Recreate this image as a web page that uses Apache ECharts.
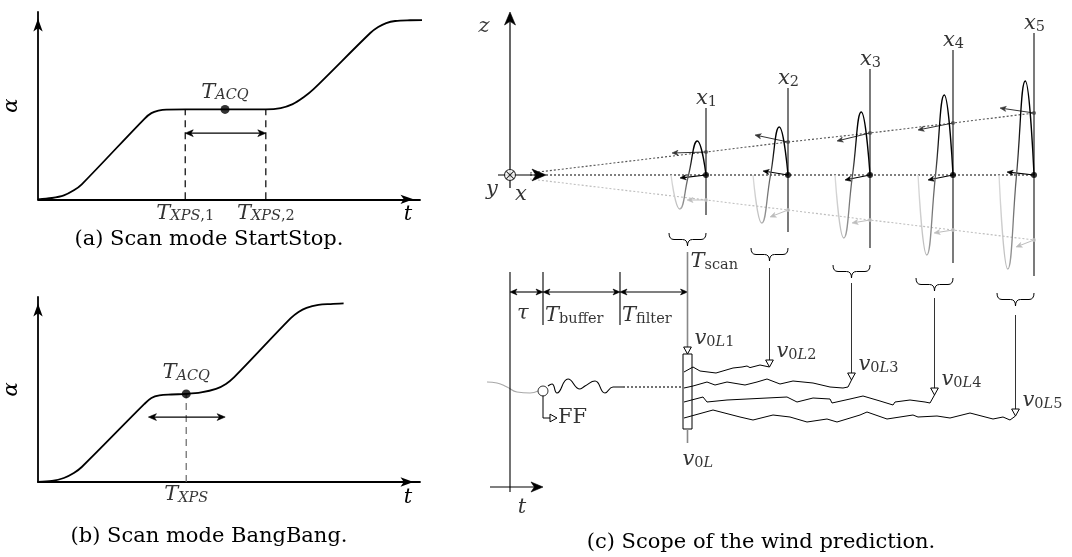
<!DOCTYPE html>
<html>
<head>
<meta charset="utf-8">
<title>Scan modes and scope of the wind prediction</title>
<script src="https://cdn.jsdelivr.net/npm/echarts@6.0.0/dist/echarts.min.js"></script>
<style>
  html, body { margin: 0; padding: 0; background: #fff; }
  #chart { width: 1072px; height: 557px; }
</style>
</head>
<body>
<div id="chart"></div>
<script>
// ---------- (a) scan mode StartStop: scanner angle alpha over time t ----------
const startStopT     = [0, 0.365, 0.677, 0.938, 1.146, 2.786, 2.969, 3.151, 3.359, 3.854, 5.964, 6.354, 6.667, 6.953, 7.214, 8.698, 8.906, 9.115, 9.349, 9.74, 10.21];
const startStopAlpha = [0, 0.07, 0.21, 0.48, 0.80, 4.30, 4.60, 4.73, 4.79, 4.80, 4.80, 4.87, 5.08, 5.45, 5.88, 8.88, 9.20, 9.41, 9.52, 9.56, 9.57];
const startStopXps   = [3.854, 5.964];      // T_XPS,1 and T_XPS,2
const startStopAcq   = [4.896, 4.80];       // T_ACQ
const startStopSpanAlpha = 3.53;            // height of the window arrow

// ---------- (b) scan mode BangBang ----------
const bangBangT     = [0, 0.365, 0.677, 0.938, 1.146, 2.786, 2.969, 3.177, 3.49, 3.88, 4.27, 4.66, 4.92, 5.13, 6.61, 6.82, 7.03, 7.34, 7.66, 8.0];
const bangBangAlpha = [0, 0.054, 0.216, 0.486, 0.81, 4.22, 4.54, 4.68, 4.73, 4.76, 4.84, 5.03, 5.30, 5.65, 8.84, 9.19, 9.41, 9.57, 9.62, 9.65];
const bangBangXps   = 3.88;                 // T_XPS
const bangBangAcq   = [3.88, 4.76];         // T_ACQ
const bangBangSpan  = [2.89, 4.90, 3.51];   // from t, to t, at alpha

// ---------- (c) scope of the wind prediction (x downstream, z height) ----------
const stationX      = [98, 139, 180, 221.5, 262];
const stationTop    = [33.5, 43.5, 53, 62.5, 71];
const stationBottom = [-20, -28.5, -36.5, -44, -50.5];
const scanAmp       = [17, 24, 31.5, 40, 47];
const scanWidth     = 17.5;
const upperZ        = [11.5, 16.5, 21, 26, 31];
const lowerZ        = [-12.5, -17.5, -22.5, -27.5, -32.5];
const hubVec        = [[-13, -1.5], [-12.5, 2], [-12.5, -2.5], [-12.5, -2.5], [-13.5, 1.5]];
const upperVec      = [[-17, -0.5], [-16.5, 3.5], [-16.5, -4], [-17.5, -3.5], [-17, 2.5]];
const lowerVec      = [[-9.5, 0], [-9, -3.5], [-9, -1.5], [-9.5, -1.5], [-9, -3.5]];
const beamStart     = [[10, 0], [10, 1], [10, -2]];   // hub, upper, lower beam origins
const braceTop      = [-29, -36.5, -45, -51.5, -59];
const connectorTop  = [-38.5, -46.5, -54, -61.5, -70];
const arrivalZ      = [-89.5, -96, -102.5, -110, -120.5];  // v0L1 ... v0L5
const filterBank    = [86.5, -89.5, 91, -127];
const timeMarks     = [0, 16.5, 55, 88.75];  // tau | T_buffer | T_filter boundaries
const dimZ          = -58.5;
const tickZ         = [-48.5, -75];
const timeAxisZ     = [-48.5, -158.5];
const tArrow        = [-10, 16.5, -156];
const inputGray     = [[-11.5, -103.5], [-6.5, -104], [-1.5, -106], [3.5, -108.5], [10, -109], [14, -108]];
const inputBlack    = [[19, -105.5], [21, -104.5], [23.5, -109], [29, -102], [35, -107], [37.5, -105.5], [42.5, -103], [47.5, -109], [51.5, -106], [56.5, -106]];
const inputDotted   = [[56.5, -106], [86.5, -106]];
const ffNode        = [16.5, -108];
const ffPath        = [[16.5, -110.3], [16.5, -121.5], [23.5, -121.5]];
const wave1 = [[87, -98.5], [91.5, -96], [95, -98], [103, -99], [111.5, -96.5], [116, -96], [118.5, -95.5], [120, -96.3], [125, -95], [129.75, -96]];
const wave2 = [[87, -106.5], [91.5, -105.5], [98.5, -103.5], [102.5, -105], [108.5, -103.5], [117.5, -105], [123.5, -103.5], [128.5, -102], [135, -104.5], [141.5, -103], [151.5, -104], [160, -106], [166.5, -106.5], [169, -106], [170.75, -102.5]];
const wave3 = [[87, -113.5], [96.5, -111], [98.5, -113.5], [108.5, -112.5], [118.5, -112], [128.5, -111.5], [138.5, -111], [143.5, -113.5], [151.5, -111.5], [160, -112], [161, -114], [170, -112], [176.5, -110.5], [185, -113], [191.5, -115], [192.5, -113.5], [200, -112.5], [207.5, -113.5], [210, -114], [212.25, -110]];
const wave4 = [[87, -121.5], [101.5, -117.5], [115, -121], [121.5, -122.5], [131.5, -120], [140, -121], [148.5, -123.5], [158.5, -122], [163.5, -123.5], [175, -120], [178.5, -118.5], [188.5, -122], [201.5, -120], [204, -121], [213.5, -120.5], [220, -121.5], [230, -119], [241.5, -122], [246.5, -121], [250, -122.5], [252.75, -120.5]];

// ---------- styling ----------
const SERIF = '"DejaVu Serif", "Liberation Serif", serif';
const FS = 21, SS = 14.5;
const RICH = {
  i:  { fontFamily: SERIF, fontStyle: 'italic', fontSize: FS, lineHeight: FS, verticalAlign: 'top', color: '#000' },
  r:  { fontFamily: SERIF, fontSize: FS, lineHeight: FS, verticalAlign: 'top', color: '#000' },
  si: { fontFamily: SERIF, fontStyle: 'italic', fontSize: SS, lineHeight: SS, padding: [9, 0, 0, 0], verticalAlign: 'bottom', color: '#000' },
  sr: { fontFamily: SERIF, fontSize: SS, lineHeight: SS, padding: [9, 0, 0, 0], verticalAlign: 'bottom', color: '#000' }
};
const BRACE_DEPTH = 6.5;

const zip = (xs, ys) => xs.map((x, k) => [x, ys[k]]);
const braceCenter = stationX.map(x => x - 9.25);

// one arrow head, tip at `tip`, pointing along (ux, uy)
function head(tip, ux, uy, L, st) {
  const open = st.kind === 'open';
  const W = L * (open ? 0.55 : 0.42), nx = -uy, ny = ux;
  const bx = tip[0] - ux * L, by = tip[1] - uy * L;
  if (open) {
    return { type: 'polygon', shape: { points: [tip, [bx + nx * W, by + ny * W], [bx - nx * W, by - ny * W]] },
             style: { fill: '#fff', stroke: '#000', lineWidth: 1 } };
  }
  return { type: 'polygon',
           shape: { points: [tip, [bx + nx * W, by + ny * W], [tip[0] - ux * L * 0.72, tip[1] - uy * L * 0.72], [bx - nx * W, by - ny * W]] },
           style: { fill: st.color, stroke: st.color, lineWidth: 0.6 } };
}

// straight segments with optional heads: rows are [x1, y1, x2, y2, headStart, headEnd]
function segSeries(axis, rows, st) {
  const data = rows.map(r => [r[0], r[1], r[2], r[3], r[4] || 0, r[5] || 0]);
  return {
    type: 'custom', coordinateSystem: 'cartesian2d', xAxisIndex: axis, yAxisIndex: axis,
    silent: true, z: st.z == null ? 3 : st.z, data,
    dimensions: ['x1', 'y1', 'x2', 'y2', 'hs', 'he'],
    encode: { x: [0, 2], y: [1, 3] },
    renderItem: (params, api) => {
      const a = api.coord([api.value(0), api.value(1)]);
      const b = api.coord([api.value(2), api.value(3)]);
      const hs = api.value(4) || 0, he = api.value(5) || 0;
      const dx = b[0] - a[0], dy = b[1] - a[1], len = Math.hypot(dx, dy) || 1;
      const ux = dx / len, uy = dy / len;
      const back = st.kind === 'open' ? 1 : 0.6;
      const children = [{
        type: 'line',
        shape: { x1: a[0] + ux * hs * back, y1: a[1] + uy * hs * back, x2: b[0] - ux * he * back, y2: b[1] - uy * he * back },
        style: { stroke: st.color, lineWidth: st.width, lineDash: st.dash || null, fill: 'none' }
      }];
      if (he) children.push(head(b, ux, uy, he, st));
      if (hs) children.push(head(a, -ux, -uy, hs, st));
      return { type: 'group', children };
    }
  };
}

// curly braces opening upwards: rows are [xLeft, xRight, zTop]
function braceSeries(axis, rows) {
  return {
    type: 'custom', coordinateSystem: 'cartesian2d', xAxisIndex: axis, yAxisIndex: axis,
    silent: true, z: 3, data: rows,
    renderItem: (params, api) => {
      const L = api.coord([api.value(0), api.value(2)]);
      const R = api.coord([api.value(1), api.value(2)]);
      const T = api.coord([api.value(0), api.value(2) - BRACE_DEPTH]);
      const y0 = L[1], y2 = T[1], y1 = (y0 + y2) / 2, xm = (L[0] + R[0]) / 2;
      const r = Math.min(5, (R[0] - L[0]) / 6);
      const st = { stroke: '#000', lineWidth: 1, fill: 'none' };
      return { type: 'group', children: [
        { type: 'bezierCurve', shape: { x1: L[0], y1: y0, cpx1: L[0], cpy1: y1, x2: L[0] + r, y2: y1 }, style: st },
        { type: 'line', shape: { x1: L[0] + r, y1: y1, x2: xm - r, y2: y1 }, style: st },
        { type: 'bezierCurve', shape: { x1: xm - r, y1: y1, cpx1: xm, cpy1: y1, x2: xm, y2: y2 }, style: st },
        { type: 'bezierCurve', shape: { x1: xm, y1: y2, cpx1: xm, cpy1: y1, x2: xm + r, y2: y1 }, style: st },
        { type: 'line', shape: { x1: xm + r, y1: y1, x2: R[0] - r, y2: y1 }, style: st },
        { type: 'bezierCurve', shape: { x1: R[0] - r, y1: y1, cpx1: R[0], cpy1: y1, x2: R[0], y2: y0 }, style: st }
      ] };
    }
  };
}

function rectSeries(axis, box) {
  return {
    type: 'custom', coordinateSystem: 'cartesian2d', xAxisIndex: axis, yAxisIndex: axis,
    silent: true, z: 3, data: [box],
    renderItem: (params, api) => {
      const p = api.coord([api.value(0), api.value(1)]);
      const q = api.coord([api.value(2), api.value(3)]);
      return { type: 'rect', shape: { x: p[0], y: p[1], width: q[0] - p[0], height: q[1] - p[1] },
               style: { fill: '#fff', stroke: '#000', lineWidth: 1 } };
    }
  };
}

function lineSeries(axis, data, style, extra) {
  return Object.assign({
    type: 'line', xAxisIndex: axis, yAxisIndex: axis, data, showSymbol: false, clip: false,
    silent: true, animation: false, lineStyle: style, z: 2
  }, extra || {});
}

function dotSeries(axis, pts, size, color, extra) {
  return Object.assign({
    type: 'scatter', xAxisIndex: axis, yAxisIndex: axis, data: pts, symbolSize: size, clip: false,
    silent: true, itemStyle: { color }, z: 5
  }, extra || {});
}

function labelSeries(axis, items) {
  return {
    type: 'scatter', xAxisIndex: axis, yAxisIndex: axis, symbolSize: 1, clip: false, silent: true, z: 10,
    itemStyle: { color: 'rgba(0,0,0,0)' },
    label: { show: true, position: 'inside', rich: RICH, color: '#000' },
    data: items.map(it => ({
      value: it.at,
      label: { formatter: () => it.text, align: it.align || 'center', verticalAlign: 'middle', offset: it.offset || [0, 0] }
    }))
  };
}

function timeAxis(gi) {
  return {
    gridIndex: gi, type: 'value', min: 0, max: 10,
    name: 't', nameLocation: 'end', nameGap: -12,
    nameTextStyle: { fontFamily: SERIF, fontStyle: 'italic', fontSize: FS, color: '#000', align: 'center', verticalAlign: 'top', padding: [5, 0, 0, 0] },
    axisLine: { show: true, onZero: false, symbol: ['none', 'arrow'], symbolSize: [7, 13], symbolOffset: [0, -6.5], lineStyle: { color: '#000', width: 1.8 } },
    axisTick: { show: false }, axisLabel: { show: false }, splitLine: { show: false }
  };
}
function angleAxis(gi) {
  return {
    gridIndex: gi, type: 'value', min: 0, max: 10,
    name: 'α', nameLocation: 'middle', nameRotate: 90, nameGap: 16,
    nameTextStyle: { fontFamily: SERIF, fontStyle: 'italic', fontSize: FS, color: '#000' },
    axisLine: { show: true, onZero: false, symbol: ['none', 'arrow'], symbolSize: [7, 13], symbolOffset: [0, -6.5], lineStyle: { color: '#000', width: 1.8 } },
    axisTick: { show: false }, axisLabel: { show: false }, splitLine: { show: false }
  };
}

const series = [];

// ---- (a) ----
series.push(lineSeries(0, zip(startStopT, startStopAlpha), { color: '#000', width: 1.8 }, { smooth: 0.35, z: 3 }));
series.push(segSeries(0, startStopXps.map(t => [t, 0, t, startStopAcq[1]]), { color: '#000', width: 1.2, dash: [7, 5] }));
series.push(segSeries(0, [[startStopXps[0], startStopSpanAlpha, startStopXps[1], startStopSpanAlpha, 8, 8]], { color: '#000', width: 1.2 }));
series.push(dotSeries(0, [startStopAcq], 9, '#000'));
series.push(labelSeries(0, [
  { at: startStopAcq, text: '{i|T}{si|ACQ}', offset: [0, -17] },
  { at: [startStopXps[0], 0], text: '{i|T}{si|XPS}{sr|,1}', offset: [0, 14] },
  { at: [startStopXps[1], 0], text: '{i|T}{si|XPS}{sr|,2}', offset: [0, 14] }
]));

// ---- (b) ----
series.push(lineSeries(1, zip(bangBangT, bangBangAlpha), { color: '#000', width: 1.8 }, { smooth: 0.35, z: 3 }));
series.push(segSeries(1, [[bangBangXps, 0, bangBangXps, bangBangAcq[1]]], { color: '#666', width: 1.2, dash: [7, 5] }));
series.push(segSeries(1, [[bangBangSpan[0], bangBangSpan[2], bangBangSpan[1], bangBangSpan[2], 8, 8]], { color: '#000', width: 1.2 }));
series.push(dotSeries(1, [bangBangAcq], 9, '#000'));
series.push(labelSeries(1, [
  { at: bangBangAcq, text: '{i|T}{si|ACQ}', offset: [0, -21] },
  { at: [bangBangXps, 0], text: '{i|T}{si|XPS}', offset: [0, 13] }
]));

// ---- (c) spatial part ----
// coordinate axes
series.push(segSeries(2, [[0, -6.5, 0, 81.5, 0, 13], [-6, 0, 18, 0, 0, 14]], { color: '#000', width: 1.2, z: 4 }));
series.push(dotSeries(2, [[0, 0]], 11, '#fff', {
  symbol: 'path://M20,10A10,10,0,1,1,0,10A10,10,0,1,1,20,10ZM2.9,2.9L17.1,17.1M17.1,2.9L2.9,17.1',
  itemStyle: { color: '#fff', borderColor: '#000', borderWidth: 1.1 }, z: 6
}));
// lidar beams through the measurement points
series.push(lineSeries(2, [beamStart[1]].concat(zip(stationX, upperZ)), { color: '#555', width: 1.1, type: [2, 2] }, { z: 1 }));
series.push(lineSeries(2, [beamStart[2]].concat(zip(stationX, lowerZ)), { color: '#bdbdbd', width: 1.1, type: [2, 2] }, { z: 1 }));
series.push(lineSeries(2, [beamStart[0]].concat(stationX.map(x => [x, 0])), { color: '#000', width: 1.1, type: [2, 2] }, { z: 1 }));
// measurement planes
series.push(segSeries(2, stationX.map((x, k) => [x, stationTop[k], x, stationBottom[k]]), { color: '#333', width: 1.3, z: 2 }));
// scan trajectories (one period per plane)
stationX.forEach((x, k) => {
  const x0 = x - scanWidth, A = scanAmp[k];
  series.push(lineSeries(2, [[x0, 0], [x0 + scanWidth / 4, -A], [x0 + scanWidth / 2, 0], [x0 + 3 * scanWidth / 4, A], [x, 0]], {
    width: 1.3,
    color: { type: 'linear', x: 0, y: 0, x2: 1, y2: 0, colorStops: [
      { offset: 0, color: '#e4e4e4' }, { offset: 0.3, color: '#b0b0b0' }, { offset: 0.5, color: '#555' },
      { offset: 0.6, color: '#000' }, { offset: 1, color: '#000' }] }
  }, { smooth: 0.5, z: 3 }));
});
// wind vectors at the measurement points
series.push(segSeries(2, stationX.map((x, k) => [x, upperZ[k], x + upperVec[k][0], upperZ[k] + upperVec[k][1], 0, 6]), { color: '#333', width: 1 }));
series.push(segSeries(2, stationX.map((x, k) => [x, lowerZ[k], x + lowerVec[k][0], lowerZ[k] + lowerVec[k][1], 0, 6]), { color: '#bdbdbd', width: 1 }));
series.push(segSeries(2, stationX.map((x, k) => [x, 0, x + hubVec[k][0], hubVec[k][1], 0, 6]), { color: '#000', width: 1.1 }));
series.push(dotSeries(2, zip(stationX, upperZ), 4, '#444'));
series.push(dotSeries(2, zip(stationX, lowerZ), 4, '#c4c4c4'));
series.push(dotSeries(2, stationX.map(x => [x, 0]), 6, '#000'));

// ---- (c) temporal part ----
series.push(braceSeries(2, stationX.map((x, k) => [x - 18.5, x, braceTop[k]])));
series.push(segSeries(2, [[braceCenter[0], connectorTop[0], braceCenter[0], arrivalZ[0], 0, 7], [braceCenter[0], filterBank[3], braceCenter[0], filterBank[3] - 7, 0, 0]],
  { color: '#888', width: 1.6, kind: 'open', z: 4 }));
series.push(segSeries(2, braceCenter.slice(1).map((x, k) => [x, connectorTop[k + 1], x, arrivalZ[k + 1], 0, 7]), { color: '#333', width: 1, kind: 'open', z: 6 }));
series.push(rectSeries(2, filterBank));
// time axis, ticks and dimension arrows
series.push(segSeries(2, [
  [timeMarks[0], timeAxisZ[0], timeMarks[0], timeAxisZ[1]],
  [tArrow[0], tArrow[2], tArrow[1], tArrow[2], 0, 12],
  [timeMarks[1], tickZ[0], timeMarks[1], tickZ[1]],
  [timeMarks[2], tickZ[0], timeMarks[2], tickZ[1]]
], { color: '#000', width: 1.1 }));
series.push(segSeries(2, timeMarks.slice(1).map((t, k) => [timeMarks[k], dimZ, t, dimZ, 7, 7]), { color: '#000', width: 1.1 }));
// incoming wind signal, feedforward tap and filtered estimates
series.push(lineSeries(2, inputGray, { color: '#a8a8a8', width: 1.1 }, { smooth: 0.5 }));
series.push(lineSeries(2, inputBlack, { color: '#000', width: 1.1 }, { smooth: 0.5 }));
series.push(lineSeries(2, inputDotted, { color: '#000', width: 1.1, type: [2, 2] }));
series.push(dotSeries(2, [ffNode], 10, 'rgba(0,0,0,0)', { symbol: 'circle', itemStyle: { color: 'rgba(0,0,0,0)', borderColor: '#000', borderWidth: 1 } }));
series.push(segSeries(2, [[ffPath[0][0], ffPath[0][1], ffPath[1][0], ffPath[1][1]]], { color: '#000', width: 1 }));
series.push(segSeries(2, [[ffPath[1][0], ffPath[1][1], ffPath[2][0], ffPath[2][1], 0, 7]], { color: '#000', width: 1, kind: 'open' }));
[wave1, wave2, wave3, wave4].forEach(w => series.push(lineSeries(2, w, { color: '#000', width: 1 }, { z: 5 })));

// ---- (c) labels ----
series.push(labelSeries(2, [
  { at: [0, 81.5], text: '{i|z}', offset: [-26, 15] },
  { at: [0, 0], text: '{i|y}', offset: [-18, 15] },
  { at: [0, 0], text: '{i|x}', offset: [11, 20] },
  { at: [braceCenter[0], braceTop[0]], text: '{i|T}{sr|scan}', align: 'left', offset: [3, 29] },
  { at: [timeMarks[0], dimZ], text: '{i|τ}', align: 'left', offset: [7, 22] },
  { at: [timeMarks[1], dimZ], text: '{i|T}{sr|buffer}', align: 'left', offset: [2, 24] },
  { at: [timeMarks[2], dimZ], text: '{i|T}{sr|filter}', align: 'left', offset: [2, 24] },
  { at: [braceCenter[0], filterBank[3]], text: '{i|v}{sr|0}{si|L}', align: 'left', offset: [-5, 31] },
  { at: ffPath[2], text: '{r|FF}', align: 'left', offset: [1, 0] },
  { at: [timeMarks[0], tArrow[2]], text: '{i|t}', offset: [12, 21] }
].concat(
  stationX.map((x, k) => ({ at: [x, stationTop[k]], text: `{i|x}{sr|${k + 1}}`, align: 'left', offset: [-10, -9] })),
  braceCenter.map((x, k) => ({ at: [x, arrivalZ[k]], text: `{i|v}{sr|0}{si|L}{sr|${k + 1}}`, align: 'left', offset: [7, -15] }))
)));

const captionFont = `${FS}px ${SERIF}`;
const option = {
  animation: false,
  backgroundColor: '#fff',
  grid: [
    { left: 36, top: 12, width: 384, height: 187.3 },
    { left: 36, top: 297, width: 384, height: 185 },
    { left: 470, top: 0, width: 602, height: 557 }
  ],
  xAxis: [timeAxis(0), timeAxis(1), { gridIndex: 2, type: 'value', min: -20, max: 281, show: false }],
  yAxis: [angleAxis(0), angleAxis(1), { gridIndex: 2, type: 'value', min: -191, max: 87.5, show: false }],
  graphic: [
    { type: 'text', x: 209, y: 240, style: { text: '(a) Scan mode StartStop.', font: captionFont, fill: '#000', align: 'center', verticalAlign: 'middle' } },
    { type: 'text', x: 209, y: 537, style: { text: '(b) Scan mode BangBang.', font: captionFont, fill: '#000', align: 'center', verticalAlign: 'middle' } },
    { type: 'text', x: 761, y: 543, style: { text: '(c) Scope of the wind prediction.', font: captionFont, fill: '#000', align: 'center', verticalAlign: 'middle' } }
  ],
  series
};

const chart = echarts.init(document.getElementById('chart'), null, { renderer: 'canvas' });
chart.setOption(option);
</script>
</body>
</html>
